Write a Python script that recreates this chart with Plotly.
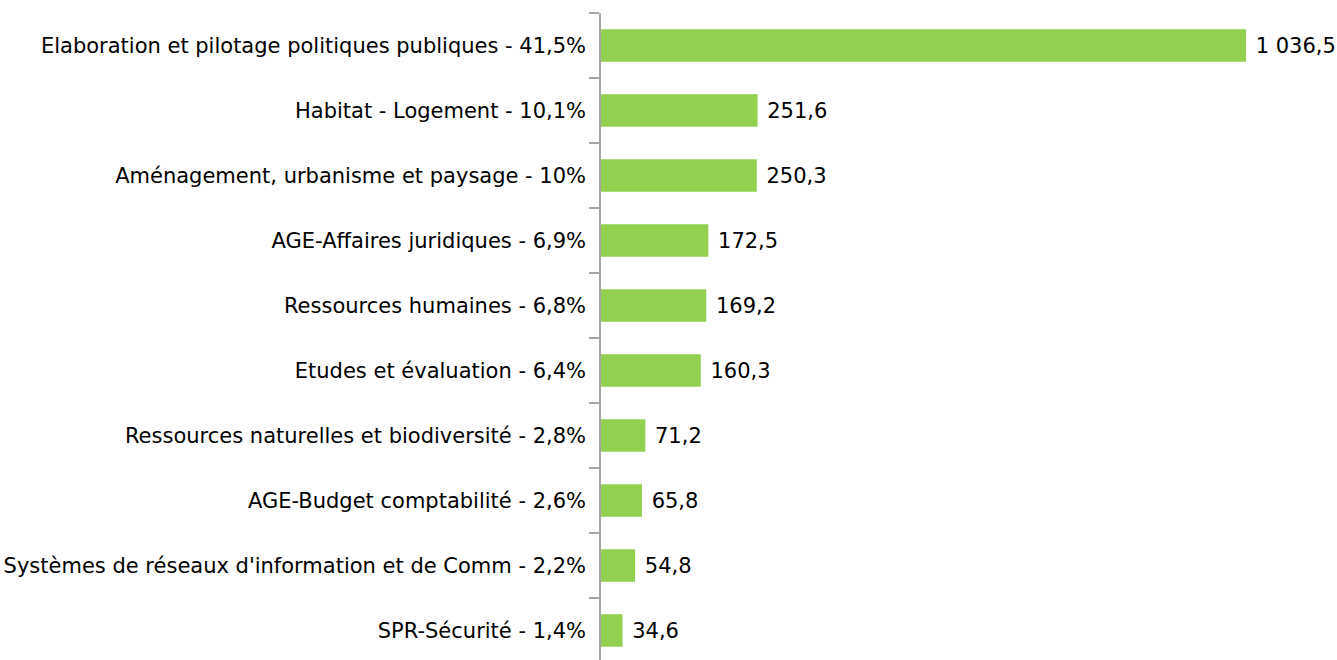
import plotly.graph_objects as go

categories = [
    "Elaboration et pilotage politiques publiques - 41,5%",
    "Habitat - Logement - 10,1%",
    "Aménagement, urbanisme et paysage - 10%",
    "AGE-Affaires juridiques - 6,9%",
    "Ressources humaines - 6,8%",
    "Etudes et évaluation - 6,4%",
    "Ressources naturelles et biodiversité - 2,8%",
    "AGE-Budget comptabilité - 2,6%",
    "Systèmes de réseaux d'information et de Comm - 2,2%",
    "SPR-Sécurité - 1,4%",
]
values = [1036.5, 251.6, 250.3, 172.5, 169.2, 160.3, 71.2, 65.8, 54.8, 34.6]

W, H = 1337, 660
ML, MR, MT, MB = 601, 10, 13, 0
px_per_unit = (1246 - 601) / 1036.5
xmax = (W - ML - MR) / px_per_unit
band_px = 65
ymax = -0.5 + (H - MT - MB) / band_px

FONT = "DejaVu Sans"
FS = 21

fig = go.Figure(
    go.Bar(
        x=values,
        y=categories,
        orientation="h",
        marker=dict(color="#92d050", line=dict(width=0)),
        texttemplate=" %{x:,.1f}",
        textposition="outside",
        cliponaxis=False,
        textfont=dict(family=FONT, size=FS, color="#000000"),
        width=0.5,
    )
)

fig.update_layout(
    width=W,
    height=H,
    margin=dict(l=ML, r=MR, t=MT, b=MB, pad=0),
    paper_bgcolor="white",
    plot_bgcolor="white",
    separators=", ",
    showlegend=False,
    font=dict(family=FONT, size=FS, color="#000000"),
    xaxis=dict(
        range=[0, xmax],
        visible=False,
        showgrid=False,
        zeroline=False,
    ),
    yaxis=dict(
        type="category",
        range=[ymax, -0.5],
        showline=True,
        linecolor="#a6a6a6",
        linewidth=1.5,
        ticks="outside",
        tickson="boundaries",
        ticklen=10,
        tickcolor="#a6a6a6",
        tickwidth=1.5,
        showgrid=False,
        zeroline=False,
        tickfont=dict(family=FONT, size=FS, color="#000000"),
        ticklabelstandoff=9,
    ),
)

fig.write_html(
    "out.html",
    config={"displayModeBar": False},
    post_script="document.body.style.margin='0';",
)
